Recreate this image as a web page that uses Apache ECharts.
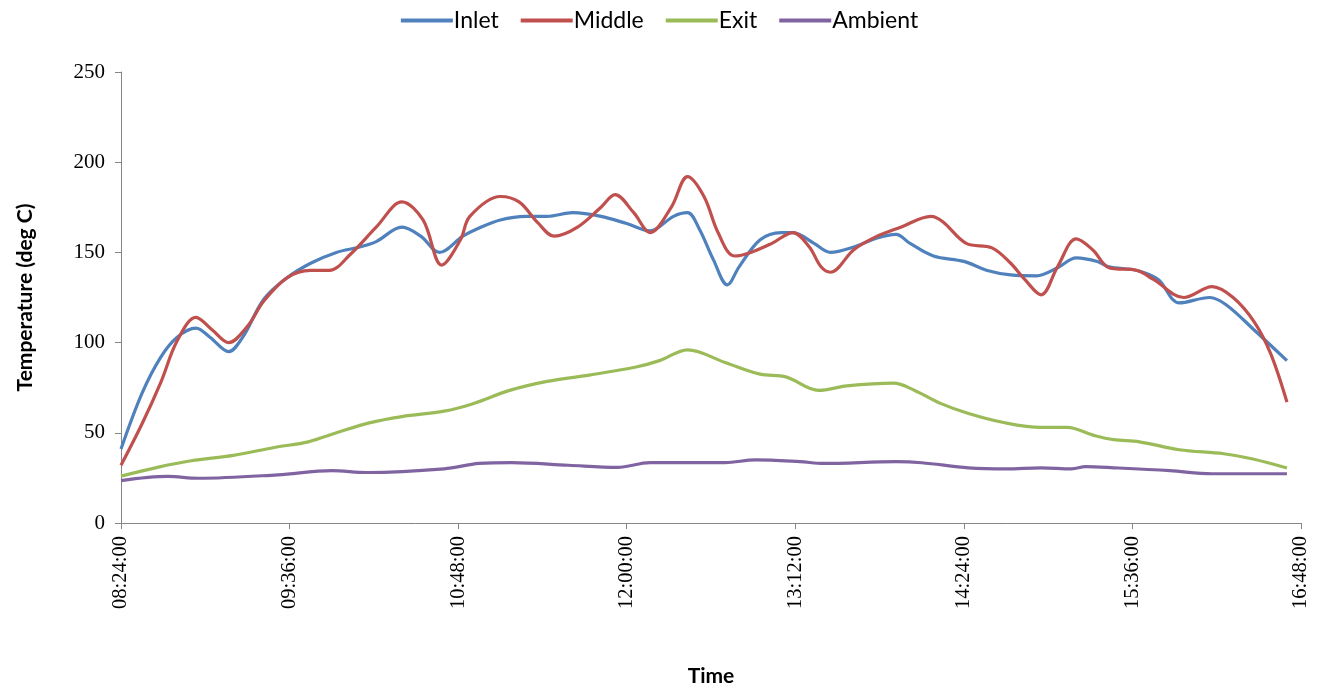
<!DOCTYPE html>
<html>
<head>
<meta charset="utf-8">
<script src="https://cdn.jsdelivr.net/npm/echarts@6/dist/echarts.min.js"></script>
<style>
  html, body { margin: 0; padding: 0; background: #fff; }
  #chart { width: 1319px; height: 688px; }
</style>
</head>
<body>
<div id="chart"></div>
<script>
// readings, clock time + temperature (deg C)
const inletTime = ['08:24','08:33','08:41','08:48','08:56','09:02','09:10','09:16','09:25','09:35','09:45','09:56','10:06','10:13','10:24','10:32','10:40','10:50','10:56','11:06','11:17','11:26','11:37','11:49','12:00','12:10','12:20','12:26','12:31','12:37','12:43','12:48','12:57','13:06','13:11','13:20','13:27','13:37','13:47','13:55','14:01','14:11','14:24','14:34','14:44','14:55','15:04','15:12','15:21','15:26','15:38','15:47','15:56','16:09','16:16','16:28','16:42']
const inletTemp = [41,72,92,103,108,103,95,103,124,136,144,150,153,156,164,159,150,159,163,168,170,170,172,170,166,162,170,172,163,146,132,142,157,161,161,155,150,153,158,160,155,148,145,140,137.5,137,141.5,147,145,142,140,135,122,125,121,107,90]

const middleTime = ['08:24','08:33','08:41','08:48','08:56','09:03','09:10','09:18','09:25','09:35','09:45','09:53','10:02','10:13','10:24','10:33','10:41','10:49','10:53','11:06','11:14','11:22','11:29','11:39','11:49','11:55','12:03','12:10','12:19','12:26','12:33','12:39','12:46','12:53','13:02','13:11','13:18','13:23','13:27','13:37','13:47','13:57','14:10','14:15','14:25','14:36','14:44','14:50','14:57','15:04','15:12','15:19','15:26','15:38','15:45','15:58','16:10','16:19','16:28','16:35','16:42']
const middleTemp = [32,55,78,101,114,107,100,109,123,136,140,140,149,164,178,168,143,157,170,181,178,166.5,159,164,175,182,172,161,175,192,181,161,148,150,155,161,153,142,139,151.5,159,164,170,167,155,152.5,144,135,126.5,142,157.5,151.5,141.5,140,135,125,131,125,111.5,94,67]

const exitTime = ['08:24','08:40','08:54','09:12','09:30','09:44','09:56','10:10','10:24','10:42','10:54','11:10','11:26','11:44','12:04','12:14','12:26','12:42','12:57','13:08','13:22','13:34','13:54','14:03','14:14','14:26','14:41','14:57','15:08','15:20','15:28','15:39','15:56','16:15','16:27','16:42']
const exitTemp = [26,31,34.5,37.5,42,45,50,55.5,59,62,66,73.5,78.5,82,86.5,90,96,89,82.5,81,73.5,76,77.5,73.5,66.3,60.7,55.7,53,53,48.4,46.2,45,40.6,38.4,35.6,30.5]

const ambientTime = ['08:24','08:44','08:57','09:31','09:54','10:09','10:42','10:57','11:11','11:35','11:56','12:10','12:42','12:55','13:14','13:24','13:55','14:06','14:26','14:42','14:57','15:10','15:16','15:28','15:52','16:10','16:42']
const ambientTemp = [23.5,25.8,24.8,26.7,29,28,30,33,33.5,32,30.8,33.5,33.5,35,34,33,34,33.4,30.6,30,30.6,30,31.2,30.6,29,27.3,27.3]

// x axis runs 08:24 -> 16:48, tick every 72 min
const xMin = 504
const xMax = 1008
const xStep = 72

const toMin = s => {
  let p = s.split(':')
  return +p[0] * 60 + +p[1]
}
const pad = n => (n < 10 ? '0' : '') + n
const pairs = (t, v) => t.map((s, i) => [toMin(s), v[i]])

const colors = ['#4F81BD', '#C0504D', '#9BBB59', '#8064A2']
const serif = '"Liberation Serif", "DejaVu Serif", serif'
const sans = 'Lato, "Open Sans", sans-serif'

const mkSeries = (name, t, v) => ({
  name: name,
  type: 'line',
  smooth: 0.35,
  showSymbol: false,
  lineStyle: { width: 3.2 },
  data: pairs(t, v)
})

var myChart = echarts.init(document.getElementById('chart'))
myChart.setOption({
  animation: false,
  color: colors,
  legend: {
    top: 4,
    left: 'center',
    icon: 'rect',
    itemWidth: 52,
    itemHeight: 4,
    itemGap: 22,
    textStyle: { fontFamily: sans, fontSize: 23, color: '#000', padding: [0, 0, 0, -4] },
    data: ['Inlet', 'Middle', 'Exit', 'Ambient']
  },
  grid: {
    left: 121,
    right: 18,
    top: 72,
    bottom: 165,
    containLabel: false,
    outerBoundsMode: 'none'
  },
  xAxis: {
    type: 'value',
    min: xMin,
    max: xMax,
    interval: xStep,
    name: 'Time',
    nameLocation: 'middle',
    nameGap: 143,
    nameTextStyle: { fontFamily: sans, fontSize: 21, fontWeight: 'bold', color: '#000' },
    splitLine: { show: false },
    axisLine: { lineStyle: { color: '#868686', width: 1 } },
    axisTick: { show: true, length: 6, lineStyle: { color: '#868686' } },
    axisLabel: {
      rotate: 90,
      margin: 13,
      fontFamily: serif,
      fontSize: 20.5,
      color: '#000',
      formatter: v => pad(Math.floor(v / 60)) + ':' + pad(v % 60) + ':00'
    }
  },
  yAxis: {
    type: 'value',
    min: 0,
    max: 250,
    interval: 50,
    name: 'Temperature (deg C)',
    nameLocation: 'middle',
    nameGap: 85,
    nameRotate: 90,
    nameTextStyle: { fontFamily: sans, fontSize: 21, fontWeight: 'bold', color: '#000' },
    splitLine: { show: false },
    axisLine: { show: true, lineStyle: { color: '#868686', width: 1 } },
    axisTick: { show: true, length: 6, lineStyle: { color: '#868686' } },
    axisLabel: { margin: 16, fontFamily: serif, fontSize: 21, color: '#000' }
  },
  series: [
    mkSeries('Inlet', inletTime, inletTemp),
    mkSeries('Middle', middleTime, middleTemp),
    mkSeries('Exit', exitTime, exitTemp),
    mkSeries('Ambient', ambientTime, ambientTemp)
  ]
})
</script>
</body>
</html>
